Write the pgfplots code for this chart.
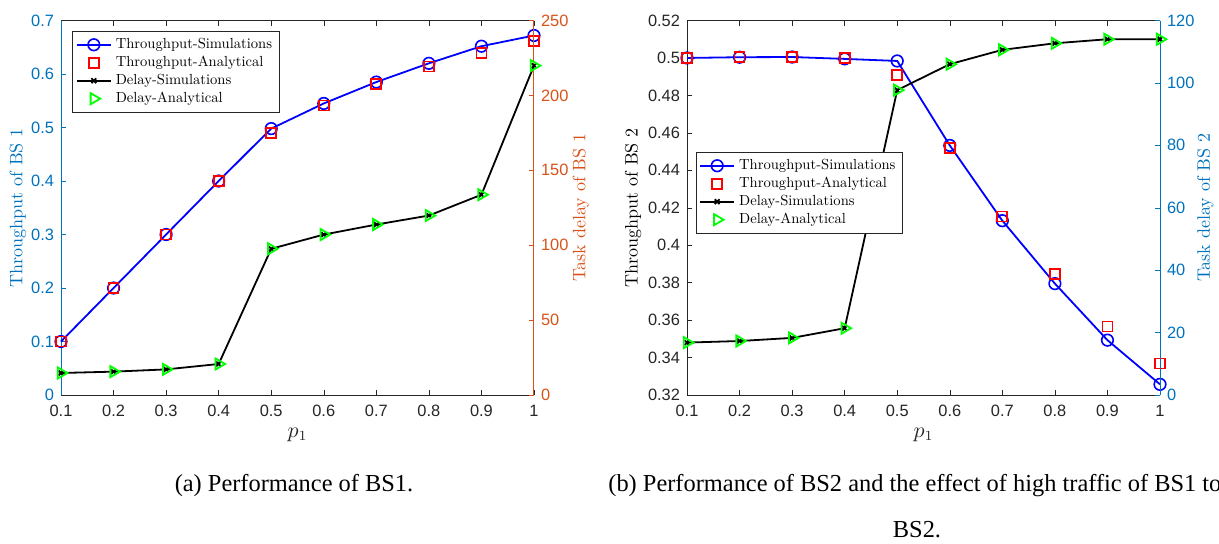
\documentclass[border=0pt]{standalone}
\usepackage{fontspec}
\usepackage{pgfplots}
\pgfplotsset{compat=1.18}
\newfontfamily\helv{Liberation Sans}
\newfontfamily\tnr{Liberation Serif}
\newfontfamily\lmten[Extension=.otf]{lmroman10-regular}
\definecolor{mlblue}{rgb}{0,0.447,0.741}
\definecolor{mlorange}{rgb}{0.85,0.325,0.098}
\definecolor{mlgray}{rgb}{0.15,0.15,0.15}
\definecolor{pgreen}{rgb}{0,1,0}

\pgfplotstableread{
x ts ta ds da
0.1 0.100 0.100 14.7 14.7
0.2 0.200 0.200 15.6 15.6
0.3 0.300 0.300 17.1 17.1
0.4 0.400 0.400 20.7 20.7
0.5 0.498 0.490 97.6 97.6
0.6 0.545 0.541 107.1 107.1
0.7 0.585 0.581 113.8 113.8
0.8 0.620 0.614 119.8 119.8
0.9 0.652 0.640 133.7 133.7
1.0 0.672 0.661 219.9 219.9
}\bsone

\pgfplotstableread{
x ts ta ds da
0.1 0.5000 0.5000 16.8 16.8
0.2 0.5004 0.5004 17.3 17.3
0.3 0.5005 0.5005 18.3 18.3
0.4 0.4995 0.4998 21.4 21.4
0.5 0.4984 0.4907 97.7 97.7
0.6 0.4533 0.4520 106.0 106.0
0.7 0.4131 0.4153 110.6 110.6
0.8 0.3795 0.3846 112.7 112.7
0.9 0.3493 0.3566 114.0 114.0
1.0 0.3257 0.3368 114.0 114.0
}\bstwo

\pgfplotsset{
  base/.style={
    scale only axis, width=236.5pt, height=187.25pt,
    xmin=0.1, xmax=1, clip=false,
    tick align=inside, major tick length=2.5pt,
    ticklabel style={font=\helv\fontsize{8.2}{9}\selectfont},
    /pgf/number format/assume math mode=true,
    label style={font=\lmten\fontsize{9}{10}\selectfont},
    every axis plot/.append style={line width=0.9pt},
  },
  leftax/.style={
    base, axis y line*=left,
    xtick={0.1,0.2,0.3,0.4,0.5,0.6,0.7,0.8,0.9,1},
    xticklabels={0.1,0.2,0.3,0.4,0.5,0.6,0.7,0.8,0.9,1},
    x axis line style={mlgray, line width=0.5pt},
    xtick style={mlgray}, xticklabel style={mlgray, yshift=-1.5pt},
    xlabel={$p_1$},
    xlabel style={at={(axis description cs:0.5,-0.107)}, anchor=center, text=mlgray, font=\fontsize{10.5}{12}\selectfont},
  },
  rightax/.style={
    base, axis y line*=right, axis x line=none,
    legend cell align=left,
    legend style={font=\lmten\fontsize{7.3}{8.3}\selectfont, draw=mlgray, line width=0.5pt,
      anchor=north west, inner sep=1.5pt, row sep=-1.7pt},
  },
  tsim/.style={blue, mark=o, mark size=2.9pt, mark options={line width=0.8pt}},
  tana/.style={red, only marks, mark=square, mark size=2.5pt, mark options={line width=0.9pt}},
  dsim/.style={black, mark=x, mark size=1.7pt, mark options={line width=0.9pt}},
  dana/.style={pgreen, only marks, mark=triangle, mark size=3.2pt, mark options={rotate=-90, line width=0.9pt}},
}

\begin{document}
\begin{tikzpicture}
% ---------- Panel (a) ----------
\begin{axis}[leftax, at={(30.5pt,-197.5pt)}, anchor=south west,
  ymin=0, ymax=0.7, ytick={0,0.1,0.2,0.3,0.4,0.5,0.6,0.7},
  y axis line style={mlblue, line width=0.5pt},
  ytick style={mlblue}, yticklabel style={mlblue},
  ylabel={Throughput of BS 1},
  ylabel style={at={(axis description cs:-0.091,0.5)}, anchor=center, text=mlblue},
]
\addplot[tsim] table[x=x, y=ts] {\bsone};
\addplot[tana] table[x=x, y=ta] {\bsone};
\end{axis}
\begin{axis}[rightax, at={(30.5pt,-197.5pt)}, anchor=south west,
  ymin=0, ymax=250, ytick={0,50,100,150,200,250},
  y axis line style={mlorange, line width=0.5pt},
  ytick style={mlorange}, yticklabel style={mlorange},
  ylabel={Task delay of BS 1},
  ylabel style={at={(axis description cs:1.099,0.5)}, anchor=center, text=mlorange},
  legend style={at={(axis description cs:0.0240,0.973)}},
]
\addlegendimage{tsim}
\addlegendimage{tana}
\addplot[dsim] table[x=x, y=ds] {\bsone};
\addplot[dana] table[x=x, y=da] {\bsone};
\legend{Throughput-Simulations, Throughput-Analytical, Delay-Simulations, Delay-Analytical}
\end{axis}

% ---------- Panel (b) ----------
\begin{axis}[leftax, at={(343.5pt,-197.5pt)}, anchor=south west,
  ymin=0.32, ymax=0.52, ytick={0.32,0.34,0.36,0.38,0.4,0.42,0.44,0.46,0.48,0.5,0.52},
  yticklabels={0.32,0.34,0.36,0.38,0.4,0.42,0.44,0.46,0.48,0.5,0.52},
  y axis line style={mlgray, line width=0.5pt},
  ytick style={mlgray}, yticklabel style={mlgray},
  ylabel={Throughput of BS 2},
  ylabel style={at={(axis description cs:-0.114,0.5)}, anchor=center, text=black},
]
\addplot[tsim] table[x=x, y=ts] {\bstwo};
\addplot[tana] table[x=x, y=ta] {\bstwo};
\end{axis}
\begin{axis}[rightax, at={(343.5pt,-197.5pt)}, anchor=south west,
  ymin=0, ymax=120, ytick={0,20,40,60,80,100,120},
  y axis line style={mlblue, line width=0.5pt},
  ytick style={mlblue}, yticklabel style={mlblue},
  ylabel={Task delay of BS 2},
  ylabel style={at={(axis description cs:1.096,0.5)}, anchor=center, text=mlblue},
  legend style={at={(axis description cs:0.0184,0.650)}},
]
\addlegendimage{tsim}
\addlegendimage{tana}
\addplot[dsim] table[x=x, y=ds] {\bstwo};
\addplot[dana] table[x=x, y=da] {\bstwo};
\legend{Throughput-Simulations, Throughput-Analytical, Delay-Simulations, Delay-Analytical}
\end{axis}

% ---------- Captions ----------
\node[anchor=base, font=\tnr\fontsize{12.2}{14}\selectfont, inner sep=0pt] at (147pt,-245.5pt) {(a) Performance of BS1.};
\node[anchor=base west, font=\tnr\fontsize{12.2}{14}\selectfont, inner sep=0pt] at (304pt,-245.5pt) {(b) Performance of BS2 and the effect of high traffic of BS1 to};
\node[anchor=base, font=\tnr\fontsize{12.2}{14}\selectfont, inner sep=0pt] at (458.5pt,-268.5pt) {BS2.};

\pgfresetboundingbox
\useasboundingbox (0pt,0pt) rectangle (609.5pt,-271.5pt);
\end{tikzpicture}
\end{document}
